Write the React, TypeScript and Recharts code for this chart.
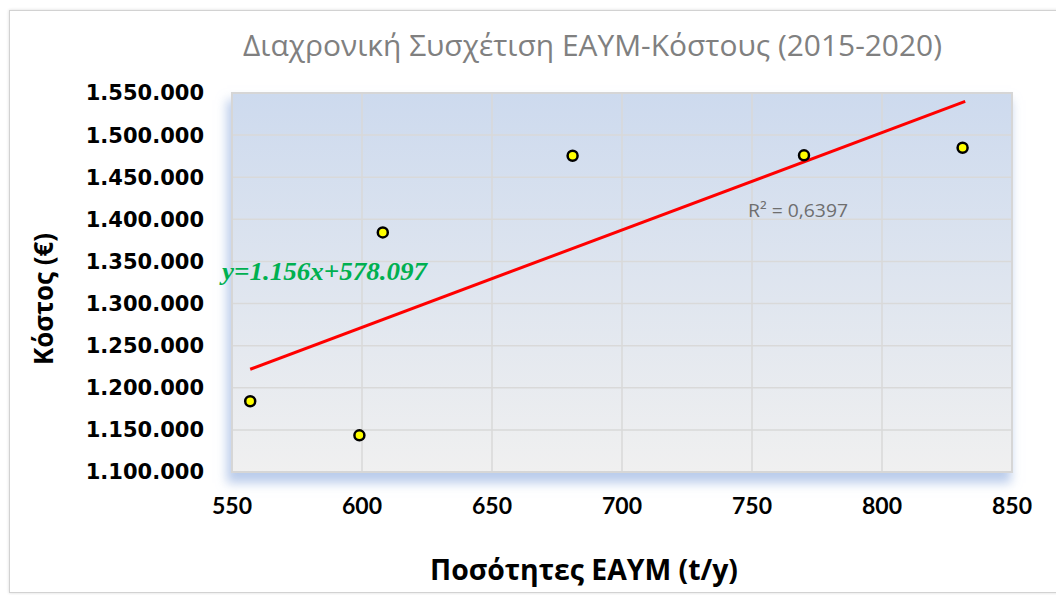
import React from 'react'
import { ScatterChart, Scatter, XAxis, YAxis, CartesianGrid, ReferenceLine, ReferenceArea } from 'recharts'

// values
const quantity = [557, 599, 608, 681, 770, 831]
const cost = [1184000, 1143500, 1384500, 1475500, 1476000, 1485000]
const trendX = [557, 832]
const trendY = [1222000, 1540000]
const xTicks = [550, 600, 650, 700, 750, 800, 850]
const yTicks = [1100000, 1150000, 1200000, 1250000, 1300000, 1350000, 1400000, 1450000, 1500000, 1550000]

const title = 'Διαχρονική  Συσχέτιση  ΕΑΥΜ-Κόστους  (2015-2020)'
const xLabel = 'Ποσότητες ΕΑΥΜ (t/y)'
const yLabel = 'Κόστος (€)'
const equation = 'y=1.156x+578.097'
const rSquared = 'R² = 0,6397'

const points = quantity.map((x, i) => ({ x, y: cost[i] }))

const fmt = (v: number) => String(v).replace(/\B(?=(\d{3})+(?!\d))/g, '.')

const Dot = (props: any) => {
  const { cx, cy } = props
  return <circle cx={cx} cy={cy} r={5} fill="#ffff00" stroke="#000" strokeWidth={2.5} />
}

const App = () => {
  return (
    <div style={{ position: 'absolute', left: 0, top: 0, width: 1056, height: 595, overflow: 'hidden', background: '#fff' }}>
      <div style={{ position: 'absolute', left: 9, top: 10, width: 1100, height: 581, border: '1.5px solid #d2d2d2', boxShadow: '0 0 3px rgba(0,0,0,0.15)' }} />
      <div style={{ position: 'absolute', left: 232, top: 93, width: 780, height: 379, boxShadow: '-3px 9px 10px 2px rgba(140,170,222,0.6)' }} />
      <div style={{ position: 'absolute', left: 0, top: 0 }}>
        <ScatterChart width={1056} height={595} margin={{ top: 93, right: 44, bottom: 83, left: 0 }}>
          <defs>
            <linearGradient id="plotBg" x1="0" y1="0" x2="0" y2="1">
              <stop offset="0%" stopColor="#cddaee" />
              <stop offset="100%" stopColor="#f0f0f0" />
            </linearGradient>
          </defs>
          <CartesianGrid fill="url(#plotBg)" fillOpacity={1} stroke="#d9d9d9" strokeWidth={1.5} />
          <XAxis type="number" dataKey="x" domain={[550, 850]} ticks={xTicks} height={40}
            axisLine={false} tickLine={false} tickSize={0} tickMargin={26} interval={0}
            tick={{ fill: '#000', fontSize: 23, fontWeight: 700, fontFamily: 'Lato' }} />
          <YAxis type="number" dataKey="y" domain={[1100000, 1550000]} ticks={yTicks} width={232}
            axisLine={false} tickLine={false} tickSize={0} tickMargin={28} interval={0}
            tickFormatter={fmt}
            tick={{ fill: '#000', fontSize: 21, fontWeight: 700, fontFamily: 'DejaVu Sans' }} />
          <ReferenceArea x1={550} x2={850} y1={1100000} y2={1550000} fill="none" stroke="#d6d6d6" strokeWidth={2} />
          <ReferenceLine segment={[{ x: trendX[0], y: trendY[0] }, { x: trendX[1], y: trendY[1] }]}
            stroke="#ff0000" strokeWidth={3} ifOverflow="visible" />
          <Scatter data={points} shape={<Dot />} isAnimationActive={false} />
        </ScatterChart>
      </div>
      <svg width={1056} height={595} style={{ position: 'absolute', left: 0, top: 0, pointerEvents: 'none' }}>
        <text x={243} y={56} fill="#808080" fontSize={30} fontFamily="Open Sans" textLength={699} lengthAdjust="spacingAndGlyphs">{title}</text>
        <text x={430} y={580} fill="#000" fontSize={29} fontWeight={700} fontFamily="Open Sans" textLength={308} lengthAdjust="spacingAndGlyphs">{xLabel}</text>
        <text transform="translate(53,365) rotate(-90)" fill="#000" fontSize={26} fontWeight={700} fontFamily="Open Sans" textLength={132} lengthAdjust="spacingAndGlyphs">{yLabel}</text>
        <text x={222} y={280} fill="#00b050" fontSize={26} fontWeight={700} fontStyle="italic" fontFamily="Liberation Serif" textLength={205} lengthAdjust="spacingAndGlyphs">{equation}</text>
        <text x={748} y={217} fill="#6e6e6e" fontSize={18} fontFamily="Open Sans" textLength={100} lengthAdjust="spacingAndGlyphs">{rSquared}</text>
      </svg>
    </div>
  )
}

export default App
